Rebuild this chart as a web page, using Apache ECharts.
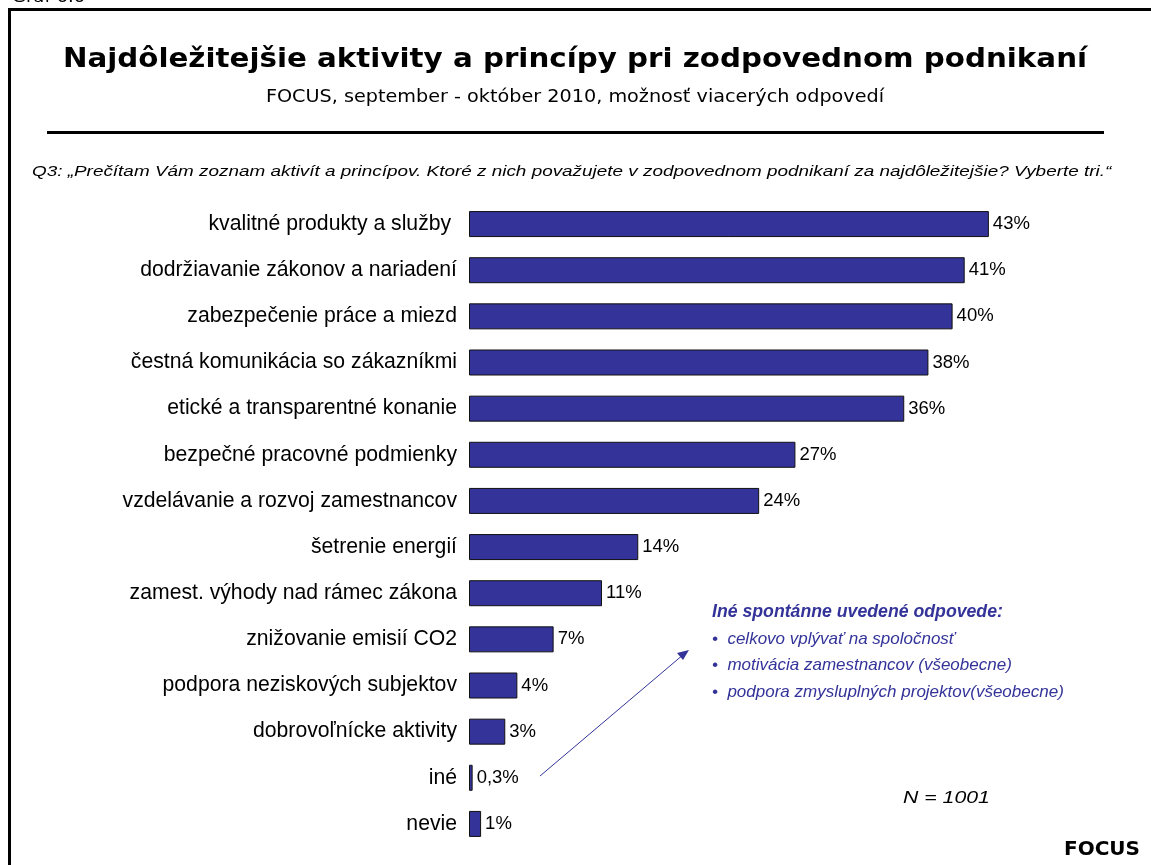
<!DOCTYPE html>
<html><head><meta charset="utf-8">
<script src="https://cdn.jsdelivr.net/npm/echarts@6/dist/echarts.min.js"></script>
<style>html,body{margin:0;padding:0;background:#fff}#c{width:1151px;height:865px}</style>
</head><body><div id="c"></div>
<script>
const categories = [
  "kvalitné produkty a služby ",
  "dodržiavanie zákonov a nariadení",
  "zabezpečenie práce a miezd",
  "čestná komunikácia so zákazníkmi",
  "etické a transparentné konanie",
  "bezpečné pracovné podmienky",
  "vzdelávanie a rozvoj zamestnancov",
  "šetrenie energií",
  "zamest. výhody nad rámec zákona",
  "znižovanie emisií CO2",
  "podpora neziskových subjektov",
  "dobrovoľnícke aktivity",
  "iné",
  "nevie"
];
const values = [43, 41, 40, 38, 36, 27, 24, 14, 11, 7, 4, 3, 0.3, 1];
const valueLabels = ["43%","41%","40%","38%","36%","27%","24%","14%","11%","7%","4%","3%","0,3%","1%"];
const title = "Najdôležitejšie aktivity a princípy pri zodpovednom podnikaní";
const subtitle = "FOCUS, september - október 2010, možnosť viacerých odpovedí";
const question = "Q3: „Prečítam Vám zoznam aktivít a princípov. Ktoré z nich považujete v zodpovednom podnikaní za najdôležitejšie? Vyberte tri.“";
const noteTitle = "Iné spontánne uvedené odpovede:";
const noteItems = ["•  celkovo vplývať na spoločnosť", "•  motivácia zamestnancov (všeobecne)", "•  podpora zmysluplných projektov(všeobecne)"];

const chart = echarts.init(document.getElementById('c'), null, {renderer: 'canvas'});
const blue = '#333399';
const graphics = [
  {type:'text', x:12, y:-9, scaleX:1.2, style:{text:'Graf 6.6', font:'15px "DejaVu Sans"', fill:'#000'}},
  {type:'rect', shape:{x:9.5, y:9.5, width:1160, height:880}, style:{fill:null, stroke:'#000', lineWidth:3}},
  {type:'text', x:575, y:60, scaleX:1.086, style:{text:title, font:'bold 27px "DejaVu Sans"', fill:'#000', align:'center', verticalAlign:'middle'}},
  {type:'text', x:575, y:98, scaleX:1.13, style:{text:subtitle, font:'17px "DejaVu Sans"', fill:'#000', align:'center', verticalAlign:'middle'}},
  {type:'rect', shape:{x:47, y:131, width:1057, height:3}, style:{fill:'#000'}},
  {type:'text', x:32, y:172, scaleX:1.26, style:{text:question, font:'italic 15px "Liberation Sans"', fill:'#000', verticalAlign:'middle'}},
  {type:'text', x:712, y:612, style:{text:noteTitle, font:'italic bold 17.7px "Liberation Sans"', fill:blue, verticalAlign:'middle'}},
  {type:'line', shape:{x1:540, y1:776, x2:684, y2:654}, style:{stroke:blue, lineWidth:1}},
  {type:'polygon', shape:{points:[[689,650],[677,653],[683,660]]}, style:{fill:blue}},
  {type:'text', x:903, y:798, scaleX:1.25, style:{text:'N = 1001', font:'italic 17px "Liberation Sans"', fill:'#000', verticalAlign:'middle'}},
  {type:'text', x:1140, y:850, style:{text:'FOCUS', font:'bold 20px "DejaVu Sans"', fill:'#000', align:'right', verticalAlign:'middle'}}
];
noteItems.forEach((t,i)=>graphics.push({type:'text', x:712, y:639+i*26.7, style:{text:t, font:'italic 17px "Liberation Sans"', fill:blue, verticalAlign:'middle'}}));

chart.setOption({
  animation:false,
  grid:{left:469, top:201, width:604.5, height:646, containLabel:false},
  xAxis:{type:'value', min:0, max:50, show:false},
  yAxis:{type:'category', data:categories, inverse:true,
    axisLine:{show:false}, axisTick:{show:false},
    axisLabel:{margin:12, color:'#000', fontFamily:'Liberation Sans', fontSize:21.2}},
  series:[{type:'bar', data:values, barWidth:26,
    itemStyle:{color:blue, borderColor:'#111', borderWidth:1},
    label:{show:true, position:'right', distance:4, color:'#000', fontFamily:'Liberation Sans', fontSize:18.5,
      formatter:p=>valueLabels[p.dataIndex]}}],
  graphic:graphics
});
</script></body></html>
